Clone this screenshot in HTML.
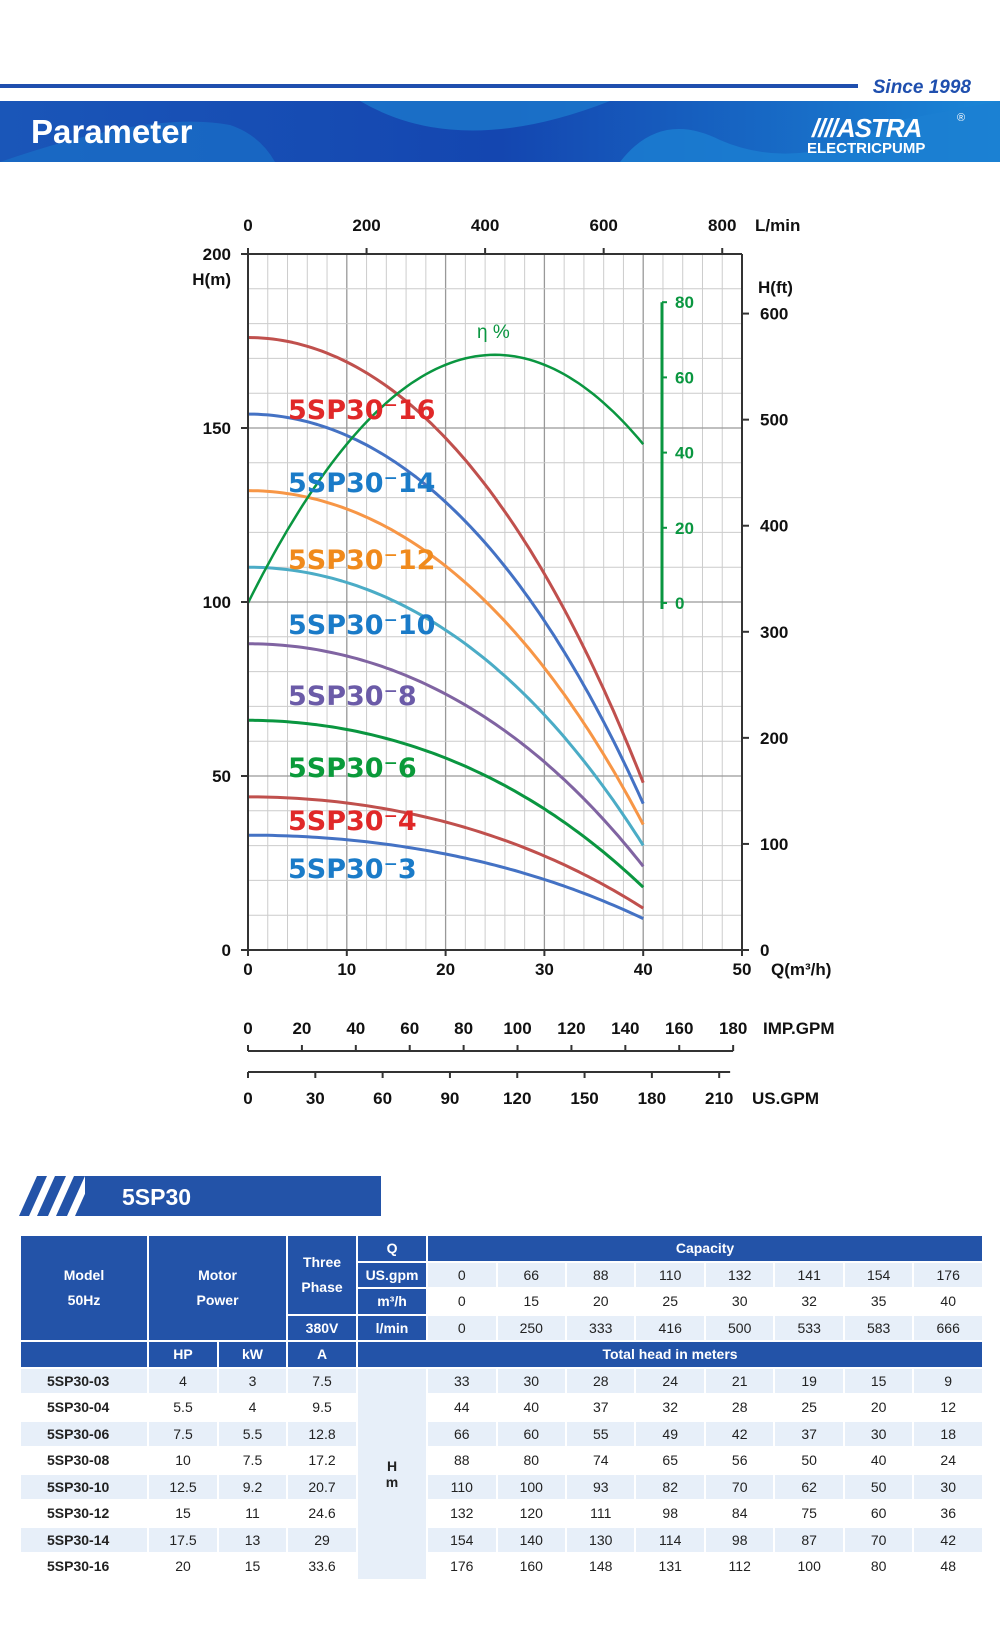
<!DOCTYPE html>
<html><head><meta charset="utf-8">
<style>
html,body{margin:0;padding:0;background:#fff;}
body{width:1000px;height:1643px;position:relative;overflow:hidden;font-family:"Liberation Sans",sans-serif;}
#tbl{position:absolute;left:19px;top:1234px;width:965px;border-collapse:collapse;table-layout:fixed;border:2px solid #2353a8;}
#tbl td{border:2px solid #fff;text-align:center;font-size:14px;color:#222;padding:0;height:24.5px;}
#tbl tr.l td{background:#e7eff9;}
#tbl td.h,#tbl tr.l td.h{background:#2353a8;color:#fff;font-weight:bold;}
#tbl td.m{font-weight:bold;text-align:left;padding-left:26px;}
#tbl td.hm{background:#e7eff9;font-weight:bold;}
</style></head><body>
<svg id="s" width="1000" height="1643" viewBox="0 0 1000 1643" style="position:absolute;left:0;top:0" font-family="Liberation Sans, sans-serif">
<defs>
<linearGradient id="bg" x1="0" x2="1" y1="0" y2="0">
<stop offset="0" stop-color="#1a56b8"/><stop offset="0.5" stop-color="#1446b0"/><stop offset="1" stop-color="#1a86d6"/></linearGradient>
</defs>
<rect x="0" y="84" width="858" height="4" fill="#1f4fae"/>
<text x="971" y="93" text-anchor="end" font-size="19" font-weight="bold" font-style="italic" fill="#1f4fae">Since 1998</text>
<rect x="0" y="101" width="1000" height="61" fill="url(#bg)"/>
<path d="M360 101 Q460 160 610 101 Z" fill="#1b78cc" opacity="0.8"/>
<path d="M0 162 Q150 110 230 125 Q260 135 275 162 Z" fill="#1a70c8" opacity="0.7"/>
<path d="M620 162 Q660 110 720 140 Q800 175 900 120 L1000 101 L1000 162 Z" fill="#1b80d2" opacity="0.8"/>
<text x="31" y="143" font-size="33" font-weight="bold" fill="#fff">Parameter</text>
<text x="812" y="137" font-size="26" font-weight="bold" font-style="italic" fill="#fff" letter-spacing="-1">////ASTRA</text>
<text x="807" y="153" font-size="15" font-weight="bold" fill="#fff">ELECTRICPUMP</text>
<text x="957" y="121" font-size="11" fill="#fff">®</text>
<g id="grid"></g>
<g id="curves"></g>
<g id="labels" font-family="DejaVu Sans, sans-serif" font-weight="bold" font-size="27"></g>
<g id="axes" font-size="17" font-weight="bold" fill="#111"></g>
<rect x="85" y="1176" width="296" height="40" fill="#2353a8"/>
<polygon points="19,1216 37,1176 47,1176 29,1216" fill="#2353a8"/>
<polygon points="37,1216 55,1176 66,1176 48,1216" fill="#2353a8"/>
<polygon points="56,1216 74,1176 85,1176 67,1216" fill="#2353a8"/>
<polygon points="75,1216 93,1176 100,1176 100,1216" fill="#2353a8"/>
<text x="122" y="1205" font-size="23" font-weight="bold" fill="#fff">5SP30</text>
</svg>
<table id="tbl">
<colgroup><col style="width:128px"><col style="width:70px"><col style="width:69px"><col style="width:70px"><col style="width:70px"><col span="8"></colgroup>
<tr><td class="h" rowspan="4" style="line-height:25px">Model<br>50Hz</td><td class="h" rowspan="4" colspan="2" style="line-height:25px">Motor<br>Power</td><td class="h" rowspan="3" style="line-height:25px">Three<br>Phase</td><td class="h">Q</td><td class="h" colspan="8">Capacity</td></tr>
<tr class="l"><td class="h">US.gpm</td><td>0</td><td>66</td><td>88</td><td>110</td><td>132</td><td>141</td><td>154</td><td>176</td></tr>
<tr><td class="h">m³/h</td><td>0</td><td>15</td><td>20</td><td>25</td><td>30</td><td>32</td><td>35</td><td>40</td></tr>
<tr class="l"><td class="h">380V</td><td class="h">l/min</td><td>0</td><td>250</td><td>333</td><td>416</td><td>500</td><td>533</td><td>583</td><td>666</td></tr>
<tr><td class="h"></td><td class="h">HP</td><td class="h">kW</td><td class="h">A</td><td class="h" colspan="9">Total head in meters</td></tr>
<tr class="l"><td class="m">5SP30-03</td><td>4</td><td>3</td><td>7.5</td><td class="hm" rowspan="8">H<br>m</td><td>33</td><td>30</td><td>28</td><td>24</td><td>21</td><td>19</td><td>15</td><td>9</td></tr>
<tr><td class="m">5SP30-04</td><td>5.5</td><td>4</td><td>9.5</td><td>44</td><td>40</td><td>37</td><td>32</td><td>28</td><td>25</td><td>20</td><td>12</td></tr>
<tr class="l"><td class="m">5SP30-06</td><td>7.5</td><td>5.5</td><td>12.8</td><td>66</td><td>60</td><td>55</td><td>49</td><td>42</td><td>37</td><td>30</td><td>18</td></tr>
<tr><td class="m">5SP30-08</td><td>10</td><td>7.5</td><td>17.2</td><td>88</td><td>80</td><td>74</td><td>65</td><td>56</td><td>50</td><td>40</td><td>24</td></tr>
<tr class="l"><td class="m">5SP30-10</td><td>12.5</td><td>9.2</td><td>20.7</td><td>110</td><td>100</td><td>93</td><td>82</td><td>70</td><td>62</td><td>50</td><td>30</td></tr>
<tr><td class="m">5SP30-12</td><td>15</td><td>11</td><td>24.6</td><td>132</td><td>120</td><td>111</td><td>98</td><td>84</td><td>75</td><td>60</td><td>36</td></tr>
<tr class="l"><td class="m">5SP30-14</td><td>17.5</td><td>13</td><td>29</td><td>154</td><td>140</td><td>130</td><td>114</td><td>98</td><td>87</td><td>70</td><td>42</td></tr>
<tr><td class="m">5SP30-16</td><td>20</td><td>15</td><td>33.6</td><td>176</td><td>160</td><td>148</td><td>131</td><td>112</td><td>100</td><td>80</td><td>48</td></tr>
</table>
<script>
var NS="http://www.w3.org/2000/svg";
function el(p,t,a,txt){var e=document.createElementNS(NS,t);for(var k in a)e.setAttribute(k,a[k]);if(txt!==undefined)e.textContent=txt;p.appendChild(e);return e;}
var X0=248,XS=9.88,Y0=950,YS=3.48;
function X(q){return X0+q*XS;}function Y(h){return Y0-h*YS;}
var g=document.getElementById('grid');
for(var q=2;q<50;q+=2){el(g,'line',{x1:X(q),x2:X(q),y1:Y(200),y2:Y0,stroke:q%10==0?'#999':'#ccc','stroke-width':q%10==0?1.3:1});}
for(var h=10;h<=200;h+=10){el(g,'line',{x1:X0,x2:X(50),y1:Y(h),y2:Y(h),stroke:h%50==0?'#999':'#ccc','stroke-width':h%50==0?1.3:1});}
var a=document.getElementById('axes');
el(a,'line',{x1:X0,x2:X0,y1:Y(200),y2:Y0,stroke:'#333','stroke-width':2});
el(a,'line',{x1:X(50),x2:X(50),y1:Y(200),y2:Y0,stroke:'#333','stroke-width':2});
el(a,'line',{x1:X0,x2:X(50),y1:Y(200),y2:Y(200),stroke:'#333','stroke-width':2});
el(a,'line',{x1:X0,x2:X(50),y1:Y0,y2:Y0,stroke:'#333','stroke-width':2});
for(var h=0;h<=200;h+=50){el(a,'line',{x1:X0-7,x2:X0,y1:Y(h),y2:Y(h),stroke:'#333','stroke-width':2});el(a,'text',{x:231,y:Y(h)+6,'text-anchor':'end'},String(h));}
el(a,'text',{x:231,y:285,'text-anchor':'end'},'H(m)');
for(var q=0;q<=50;q+=10){el(a,'line',{x1:X(q),x2:X(q),y1:Y0,y2:Y0+6,stroke:'#333','stroke-width':2});el(a,'text',{x:X(q),y:975,'text-anchor':'middle'},String(q));}
el(a,'text',{x:771,y:975},'Q(m³/h)');
for(var l=0;l<=800;l+=200){var x=X(l/16.667);el(a,'line',{x1:x,x2:x,y1:Y(200)-6,y2:Y(200),stroke:'#333','stroke-width':2});el(a,'text',{x:x,y:231,'text-anchor':'middle'},String(l));}
el(a,'text',{x:755,y:231},'L/min');
for(var f=0;f<=600;f+=100){var y=Y(f*0.3048);el(a,'line',{x1:X(50),x2:X(50)+7,y1:y,y2:y,stroke:'#333','stroke-width':2});el(a,'text',{x:760,y:y+6},String(f));}
el(a,'text',{x:758,y:293},'H(ft)');
var gx=662;function EY(e){return 603-e*3.76;}
el(a,'line',{x1:gx,x2:gx,y1:EY(80),y2:EY(0)+6,stroke:'#0a9640','stroke-width':3});
for(var e=0;e<=80;e+=20){el(a,'line',{x1:gx,x2:gx+5,y1:EY(e),y2:EY(e),stroke:'#0a9640','stroke-width':2});el(a,'text',{x:675,y:EY(e)+6,fill:'#0a9640'},String(e));}
el(a,'text',{x:477,y:338,fill:'#0a9640','font-weight':'normal','font-size':19},'η %');
el(a,'line',{x1:X0,x2:X(49.1),y1:1051,y2:1051,stroke:'#333','stroke-width':2});
for(var v=0;v<=180;v+=20){var x=X(v*0.2728);el(a,'line',{x1:x,x2:x,y1:1045,y2:1051,stroke:'#333','stroke-width':2});el(a,'text',{x:x,y:1034,'text-anchor':'middle'},String(v));}
el(a,'text',{x:763,y:1034},'IMP.GPM');
el(a,'line',{x1:X0,x2:X(48.8),y1:1072,y2:1072,stroke:'#333','stroke-width':2});
for(var v=0;v<=210;v+=30){var x=X(v*0.2271);el(a,'line',{x1:x,x2:x,y1:1072,y2:1078,stroke:'#333','stroke-width':2});el(a,'text',{x:x,y:1104,'text-anchor':'middle'},String(v));}
el(a,'text',{x:752,y:1104},'US.GPM');
var c=document.getElementById('curves');
function poly(f){var d='';for(var q=0;q<=40.001;q+=0.5){d+=(q==0?'M':' L')+X(q).toFixed(1)+' '+Y(f(q)).toFixed(1);}return d;}
var D=[[176,'#c0504d'],[154,'#4472c4'],[132,'#f79646'],[110,'#4bacc6'],[88,'#8064a2'],[66,'#0a9640'],[44,'#c0504d'],[33,'#4472c4']];
D.forEach(function(r){var H0=r[0];el(c,'path',{d:poly(function(q){return H0*(1-3.96e-4*q*q-3.64e-8*q*q*q*q);}),fill:'none',stroke:r[1],'stroke-width':3,'stroke-linejoin':'round'});});
var ed='';for(var q=0;q<=40.001;q+=0.5){var e=66-66*(q-25)*(q-25)/625;ed+=(q==0?'M':' L')+X(q).toFixed(1)+' '+EY(e).toFixed(1);}
el(c,'path',{d:ed,fill:'none',stroke:'#0a9640','stroke-width':2.5});
var L=[['5SP30⁻16','#e02828',419],['5SP30⁻14','#1a7bc8',492],['5SP30⁻12','#f08a1c',569],['5SP30⁻10','#1a7bc8',634],['5SP30⁻8','#6b5ba8',705],['5SP30⁻6','#0a9a3a',777],['5SP30⁻4','#e02828',830],['5SP30⁻3','#1a7bc8',878]];
var lg=document.getElementById('labels');
L.forEach(function(r){el(lg,'text',{x:288,y:r[2],fill:r[1]},r[0]);});
</script>
</body></html>
